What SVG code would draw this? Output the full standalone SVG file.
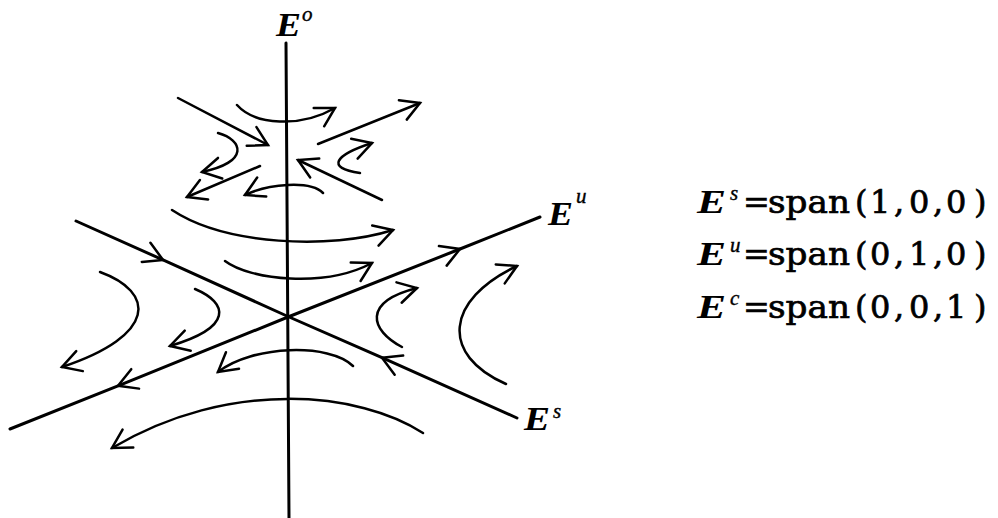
<svg xmlns="http://www.w3.org/2000/svg" width="998" height="518" viewBox="0 0 998 518">
<style>
.ax{fill:none;stroke:#000;stroke-width:3;stroke-linecap:round;stroke-linejoin:round}
.fl{fill:none;stroke:#000;stroke-width:2.5;stroke-linecap:round}
.it{font-family:"Liberation Serif","Times New Roman",serif;font-style:italic;fill:#000}
.big{font-size:33px;font-weight:bold}
.sup{font-size:21px;stroke:#000;stroke-width:0.4}
.eq{font-family:"DejaVu Serif","Liberation Serif",serif;font-size:32px;fill:#000;stroke:#000;stroke-width:0.7}
</style>
<defs>
<marker id="ah" viewBox="-24 -14 28 28" markerWidth="28" markerHeight="28" refX="0" refY="0" orient="auto" markerUnits="userSpaceOnUse" overflow="visible">
<path d="M-18.5,-10.5 L0,0 L-18.5,10.5" fill="none" stroke="#000" stroke-width="2.5" stroke-linecap="round" stroke-linejoin="miter"/>
</marker>
</defs>
<rect width="998" height="518" fill="#fff"/>
<g id="axes">
<path class="ax" d="M286,43 L289,518"/>
<path class="ax" d="M288,317 L118,385.8 L10,429" marker-mid="url(#ah)"/>
<path class="ax" d="M288,317 L460,249 L540,217" marker-mid="url(#ah)"/>
<path class="ax" d="M76,221 L163,259.9 L288,316.5" marker-mid="url(#ah)"/>
<path class="ax" d="M517,418 L382,357.7 L288,316.5" marker-mid="url(#ah)"/>
</g>
<g id="flows" marker-end="url(#ah)">
<path class="fl" d="M178,98 L268,145"/>
<path class="fl" d="M237,105 C255,125 300,128 335,108"/>
<path class="fl" d="M318,144 L420,103"/>
<path class="fl" d="M218,133 C243,140 250,162 202,172"/>
<path class="fl" d="M260,166 L187,197"/>
<path class="fl" d="M323,193 C310,180 268,184 245,195"/>
<path class="fl" d="M360,173 C325,168 335,155 372,143"/>
<path class="fl" d="M382,200 L298,160"/>
<path class="fl" d="M172,210 C225,245 330,250 393,230"/>
<path class="fl" d="M225,261 C250,280 325,288 372,263"/>
<path class="fl" d="M100,272 C155,292 158,335 62,367"/>
<path class="fl" d="M195,289 C228,303 234,327 170,346"/>
<path class="fl" d="M353,366 C330,343 252,345 218,372"/>
<path class="fl" d="M423,433 C360,392 230,378 112,448"/>
<path class="fl" d="M402,347 C370,330 362,302 417,288"/>
<path class="fl" d="M506,384 C440,355 445,300 517,266"/>
</g>
<g id="axis-labels">
<text class="it big" x="276" y="36" textLength="25" lengthAdjust="spacingAndGlyphs">E</text><text class="it sup" x="302" y="21" font-size="19">o</text>
<text class="it big" x="548" y="225" textLength="25" lengthAdjust="spacingAndGlyphs">E</text><text class="it sup" x="576" y="203">u</text>
<text class="it big" x="524" y="430" textLength="26" lengthAdjust="spacingAndGlyphs">E</text><text class="it sup" x="553" y="418">s</text>
</g>
<g id="equations">
<text class="it big" x="697" y="213" font-size="35" textLength="29" lengthAdjust="spacingAndGlyphs">E</text><text class="it sup" x="730" y="200">s</text>
<text class="eq" y="213"><tspan x="743">=</tspan><tspan x="768" textLength="82" lengthAdjust="spacingAndGlyphs">span</tspan><tspan x="855">(</tspan><tspan x="870">1</tspan><tspan x="894">,</tspan><tspan x="909">0</tspan><tspan x="933">,</tspan><tspan x="946">0</tspan><tspan x="974">)</tspan></text>
<text class="it big" x="697" y="265" font-size="35" textLength="29" lengthAdjust="spacingAndGlyphs">E</text><text class="it sup" x="730" y="252">u</text>
<text class="eq" y="265"><tspan x="743">=</tspan><tspan x="768" textLength="82" lengthAdjust="spacingAndGlyphs">span</tspan><tspan x="855">(</tspan><tspan x="870">0</tspan><tspan x="894">,</tspan><tspan x="909">1</tspan><tspan x="933">,</tspan><tspan x="946">0</tspan><tspan x="974">)</tspan></text>
<text class="it big" x="697" y="318" font-size="35" textLength="29" lengthAdjust="spacingAndGlyphs">E</text><text class="it sup" x="730" y="305">c</text>
<text class="eq" y="318"><tspan x="743">=</tspan><tspan x="768" textLength="82" lengthAdjust="spacingAndGlyphs">span</tspan><tspan x="855">(</tspan><tspan x="870">0</tspan><tspan x="894">,</tspan><tspan x="909">0</tspan><tspan x="933">,</tspan><tspan x="946">1</tspan><tspan x="974">)</tspan></text>
</g>
</svg>
